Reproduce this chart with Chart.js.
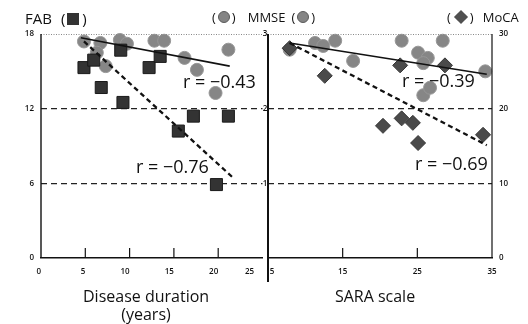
<!DOCTYPE html>
<html><head><meta charset="utf-8">
<script src="https://cdn.jsdelivr.net/npm/chart.js@4/dist/chart.umd.min.js"></script>
<style>
html,body{margin:0;padding:0;background:#fff;}
body{width:528px;height:324px;position:relative;overflow:hidden;font-family:"Open Sans",sans-serif;color:#111;}
canvas{position:absolute;top:0;}
#cL{left:0;}
#cR{left:240px;}
.t{position:absolute;white-space:nowrap;line-height:1;}
.sq{display:inline-block;width:12px;height:12px;background:#333;vertical-align:-1px;margin:0 3px 0 2px;}
.ci{display:inline-block;width:12px;height:12px;border-radius:50%;background:#858585;border:1px solid #5a5a5a;box-sizing:border-box;vertical-align:-1px;margin:0 2px;}
.di{display:inline-block;width:10px;height:10px;background:#505050;transform:rotate(45deg);vertical-align:0px;margin:0 4px 0 5px;}
.r{font-size:18px;color:#111;}
</style></head><body>
<canvas id="cL" width="272" height="324"></canvas>
<canvas id="cR" width="288" height="324"></canvas>
<div class="t" style="left:25px;top:11px;font-size:15px">FAB<span style="margin-left:9px">(</span><span class="sq"></span>)</div>
<div class="t" style="left:212px;top:11px;font-size:13px">(<span class="ci"></span>)<span style="margin-left:12px;margin-right:6px">MMSE</span>(<span class="ci"></span>)</div>
<div class="t" style="left:447px;top:11px;font-size:13px">(<span class="di"></span>)<span style="margin-left:9px">MoCA</span></div>
<div class="t r" style="left:183px;top:72px">r = −0.43</div>
<div class="t r" style="left:136px;top:157px">r = −0.76</div>
<div class="t r" style="left:402px;top:71px">r = −0.39</div>
<div class="t r" style="left:415px;top:154px">r = −0.69</div>
<div class="t" style="left:83px;top:287px;font-size:16px;text-align:center;width:126px;line-height:18px">Disease duration<br>(years)</div>
<div class="t" style="left:333px;top:287px;font-size:16px;text-align:center;width:84px;line-height:18px">SARA scale</div>
<script>
// ---- tick labels ----
const durationTicks = [0, 5, 10, 15, 20, 25];
const saraTicks = [5, 15, 25, 35];
const fabTicks = [0, 6, 12, 18];
const mmseTicks = [0, 10, 20, 30];
const mocaTicks = [0, 10, 20, 30];

// ---- left panel: disease duration (years) ----
const fabDuration = [4.85, 5.95, 6.8, 9.0, 9.25, 12.2, 13.45, 15.5, 17.2, 19.8, 21.15];
const fabScore    = [15.3, 15.9, 13.7, 16.7, 12.5, 15.3, 16.2, 10.2, 11.4, 5.9, 11.4];
const mmseDuration = [4.85, 6.7, 6.3, 7.3, 8.9, 9.7, 12.8, 13.9, 16.2, 17.6, 19.7, 21.15];
const mmseByDuration = [29.0, 28.8, 27.5, 25.7, 29.2, 28.7, 29.1, 29.1, 26.8, 25.2, 22.1, 27.9];
const fabFitX = [4.85, 21.6];
const fabFitY = [17.4, 6.5];
const mmseDurFitX = [4.5, 21.3];
const mmseDurFitY = [29.5, 25.7];

// ---- right panel: SARA scale ----
const mmseSara  = [7.9, 11.3, 12.4, 14.0, 16.4, 22.9, 28.4, 25.1, 26.4, 25.8, 25.8, 26.7, 34.1];
const mmseScore = [27.9, 28.8, 28.4, 29.1, 26.4, 29.1, 29.1, 27.5, 26.8, 26.1, 21.8, 22.8, 25.0];
const mocaSara  = [7.9, 12.6, 22.7, 28.7, 20.4, 22.9, 24.4, 25.1, 33.8];
const mocaScore = [28.1, 24.4, 25.8, 25.8, 17.7, 18.7, 18.1, 15.4, 16.5];
const mmseSaraFitX = [7.9, 34.3];
const mmseSaraFitY = [28.8, 24.6];
const mocaSaraFitX = [7.9, 34.3];
const mocaSaraFitY = [28.8, 15.1];

const pts = (xs, ys) => xs.map((x, i) => ({x, y: ys[i]}));
const tickFont = {family: '"Open Sans", sans-serif', size: 8, weight: '600'};
const setTicks = arr => (s => { s.ticks = arr.map(v => ({value: v})); });

const framePlugin = {
  id: 'frame',
  afterDraw(chart, args, o) {
    const {ctx, chartArea: a} = chart;
    ctx.save();
    ctx.strokeStyle = '#888'; ctx.lineWidth = 1; ctx.setLineDash([1, 1.5]);
    ctx.beginPath(); ctx.moveTo(a.left, a.top + 0.5); ctx.lineTo(a.right, a.top + 0.5); ctx.stroke();
    ctx.setLineDash([]);
    ctx.strokeStyle = '#111';
    (o.vlines || []).forEach(l => {
      const x = l.side === 'left' ? a.left : a.right;
      ctx.lineWidth = l.w;
      ctx.beginPath(); ctx.moveTo(x, a.top); ctx.lineTo(x, a.bottom + (l.ext || 0)); ctx.stroke();
    });
    const xs = chart.scales.x;
    ctx.lineWidth = 1.2;
    (o.innerTicks || []).forEach(v => {
      const px = xs.getPixelForValue(v);
      ctx.beginPath(); ctx.moveTo(px, a.bottom); ctx.lineTo(px, a.bottom - 10); ctx.stroke();
    });
    ctx.restore();
  }
};

const gridDash = (vals) => ({
  display: true, drawTicks: false, lineWidth: 1.2,
  color: c => (vals.includes(c.tick && c.tick.value) ? '#222' : 'rgba(0,0,0,0)')
});

const sqStyle = {pointStyle: 'rect', pointRadius: 8.5, backgroundColor: '#333', borderColor: '#1a1a1a', borderWidth: 1};
const ciStyle = {pointStyle: 'circle', pointRadius: 6.5, backgroundColor: '#868686', borderColor: '#979797', borderWidth: 1};
const diStyle = {pointStyle: 'rectRot', pointRadius: 7.5, backgroundColor: '#4a4a4a', borderColor: '#363636', borderWidth: 1};
const solidLine = {showLine: true, pointRadius: 0, borderColor: '#111', borderWidth: 1.6, fill: false};
const dashLine = {showLine: true, pointRadius: 0, borderColor: '#111', borderWidth: 2.3, borderDash: [5, 3.5], fill: false};

new Chart(document.getElementById('cL'), {
  type: 'scatter',
  data: {datasets: [
    Object.assign({data: pts(mmseDurFitX, mmseDurFitY), yAxisID: 'yM', clip: false}, solidLine),
    Object.assign({data: pts(fabFitX, fabFitY), yAxisID: 'y', clip: false}, dashLine),
    Object.assign({data: pts(fabDuration, fabScore), yAxisID: 'y', clip: false}, sqStyle),
    Object.assign({data: pts(mmseDuration, mmseByDuration), yAxisID: 'yM', clip: false}, ciStyle)
  ]},
  options: {
    responsive: false, animation: false, devicePixelRatio: 1,
    layout: {padding: {top: 34, left: 0, right: 4, bottom: 0}},
    plugins: {legend: {display: false}, tooltip: {enabled: false},
      frame: {vlines: [{side: 'left', w: 1.4}], innerTicks: durationTicks.slice(1, -1)}},
    scales: {
      x: {type: 'linear', min: 0, max: 25, afterBuildTicks: setTicks(durationTicks),
        afterFit: s => { s.height = 66; },
        ticks: {font: tickFont, color: '#111', padding: 9, align: 'end', maxRotation: 0, autoSkip: false,
          callback: v => (v === 25 ? '25    ' : String(v))},
        grid: {display: false, drawTicks: false},
        border: {display: true, color: '#111', width: 1.4}},
      y: {type: 'linear', position: 'left', min: 0, max: 18, afterBuildTicks: setTicks(fabTicks),
        afterFit: s => { s.width = 41; },
        ticks: {font: tickFont, color: '#111', padding: 7},
        grid: gridDash([6, 12]),
        border: {display: false, dash: [6, 4]}},
      yM: {type: 'linear', display: false, min: 0, max: 30}
    }
  },
  plugins: [framePlugin]
});

new Chart(document.getElementById('cR'), {
  type: 'scatter',
  data: {datasets: [
    Object.assign({data: pts(mmseSaraFitX, mmseSaraFitY), yAxisID: 'y', clip: false}, solidLine),
    Object.assign({data: pts(mocaSaraFitX, mocaSaraFitY), yAxisID: 'y2', clip: false}, dashLine),
    Object.assign({data: pts(mocaSara, mocaScore), yAxisID: 'y2', clip: false}, diStyle),
    Object.assign({data: pts(mmseSara, mmseScore), yAxisID: 'y', clip: false}, ciStyle)
  ]},
  options: {
    responsive: false, animation: false, devicePixelRatio: 1,
    layout: {padding: {top: 34, left: 0, right: 0, bottom: 0}},
    plugins: {legend: {display: false}, tooltip: {enabled: false},
      frame: {vlines: [{side: 'left', w: 2, ext: 24}, {side: 'right', w: 1.2}], innerTicks: saraTicks.slice(1, -1)}},
    scales: {
      x: {type: 'linear', min: 5, max: 35, afterBuildTicks: setTicks(saraTicks),
        afterFit: s => { s.height = 66; },
        ticks: {font: tickFont, color: '#111', padding: 9, maxRotation: 0, autoSkip: false,
          callback: v => (v === 5 ? '    5' : String(v))},
        grid: {display: false, drawTicks: false},
        border: {display: true, color: '#111', width: 1.4}},
      y: {type: 'linear', position: 'left', min: 0, max: 30, afterBuildTicks: setTicks(mmseTicks),
        afterFit: s => { s.width = 28; },
        ticks: {font: tickFont, color: '#111', padding: -4},
        grid: gridDash([10, 20]),
        border: {display: false, dash: [6, 4]}},
      y2: {type: 'linear', position: 'right', min: 0, max: 30, afterBuildTicks: setTicks(mocaTicks),
        afterFit: s => { s.width = 36; },
        ticks: {font: tickFont, color: '#111', padding: 7},
        grid: {display: false, drawTicks: false},
        border: {display: false}}
    }
  },
  plugins: [framePlugin]
});
</script>
</body></html>
